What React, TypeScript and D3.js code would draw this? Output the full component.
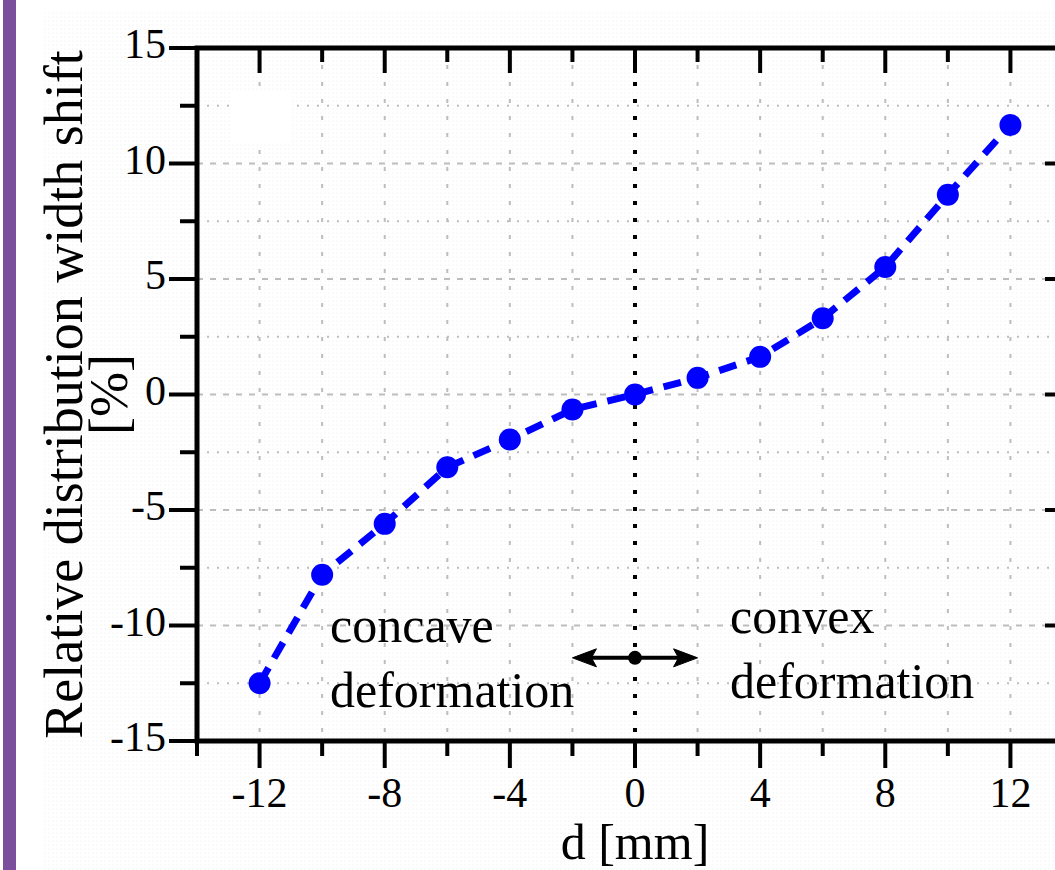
import React from "react";
import * as d3 from "d3";

// values
const dValues = [-12, -10, -8, -6, -4, -2, 0, 2, 4, 6, 8, 10, 12];
const widthShift = [-12.5, -7.8, -5.6, -3.15, -1.95, -0.65, 0, 0.72, 1.63, 3.3, 5.52, 8.65, 11.67];
const xMajorTicks = [-12, -8, -4, 0, 4, 8, 12];
const xMinorTicks = [-14, -10, -6, -2, 2, 6, 10, 14];
const yMajorTicks = [-15, -10, -5, 0, 5, 10, 15];
const yMinorTicks = [-12.5, -7.5, -2.5, 2.5, 7.5, 12.5];
const xGridTicks = [-12, -10, -8, -6, -4, -2, 2, 4, 6, 8, 10, 12];

const W = 1055;
const H = 870;
const font = "'Liberation Serif', 'Times New Roman', serif";

export default function App() {
  const x = d3.scaleLinear().domain([-14, 14]).range([197, 1073]);
  const y = d3.scaleLinear().domain([-15, 15]).range([741, 48]);

  const pts = dValues.map((d, i) => [x(d), y(widthShift[i])] as [number, number]);
  const line = d3.line()(pts) || "";

  const left = x(-14);
  const right = x(14);
  const top = y(15);
  const bottom = y(-15);

  // arrow annotation in data coords
  const arrowY = y(-11.4);
  const ax0 = x(-2);
  const ax1 = x(2);

  return (
    <svg width={W} height={H} style={{ position: "absolute", left: 0, top: 0, background: "#fff" }}>
      <defs>
        <pattern id="bgdots" width="4" height="4" patternUnits="userSpaceOnUse">
          <circle cx="1" cy="1" r="0.6" fill="#e6e6e6" />
        </pattern>
      </defs>
      <rect x={0} y={0} width={W} height={H} fill="#fff" />
      <rect x={43} y={12} width={W - 43} height={H - 12} fill="url(#bgdots)" />
      <rect x={3} y={0} width={13} height={H} fill="#7b4f9c" />

      {/* grid */}
      <g stroke="#bdbdbd" strokeWidth={2} fill="none">
        {xGridTicks.map((t) => (
          <line key={"gx" + t} x1={x(t)} x2={x(t)} y1={top} y2={bottom} strokeDasharray="4,13" />
        ))}
        {yMajorTicks.slice(1, -1).map((t) => (
          <line key={"gy" + t} x1={left} x2={right} y1={y(t)} y2={y(t)} strokeDasharray="6,7" />
        ))}
        {yMinorTicks.map((t) => (
          <line key={"gm" + t} x1={left} x2={right} y1={y(t)} y2={y(t)} strokeDasharray="2,8" />
        ))}
      </g>

      <rect x={230} y={92} width={62} height={51} fill="#fff" />

      {/* zero line */}
      <line x1={x(0)} x2={x(0)} y1={top} y2={bottom} stroke="#000" strokeWidth={4}
        strokeDasharray="4,13" />

      {/* frame and ticks */}
      <g stroke="#000" strokeWidth={4}>
        {xMajorTicks.map((t) => (
          <g key={"xt" + t}>
            <line x1={x(t)} x2={x(t)} y1={bottom} y2={bottom + 27} />
            <line x1={x(t)} x2={x(t)} y1={top} y2={top + 25} />
          </g>
        ))}
        {xMinorTicks.map((t) => (
          <g key={"xm" + t}>
            <line x1={x(t)} x2={x(t)} y1={bottom} y2={bottom + 15} />
            <line x1={x(t)} x2={x(t)} y1={top} y2={top + 14} />
          </g>
        ))}
        {yMajorTicks.map((t) => (
          <g key={"yt" + t}>
            <line x1={left - 28} x2={left} y1={y(t)} y2={y(t)} />
            <line x1={right - 28} x2={right} y1={y(t)} y2={y(t)} />
          </g>
        ))}
        {yMinorTicks.map((t) => (
          <g key={"ym" + t}>
            <line x1={left - 17} x2={left} y1={y(t)} y2={y(t)} />
            <line x1={right - 15} x2={right} y1={y(t)} y2={y(t)} />
          </g>
        ))}
        <rect x={left} y={top} width={right - left} height={bottom - top} fill="none" strokeWidth={5} />
      </g>

      {/* data */}
      <path d={line} fill="none" stroke="#0000ff" strokeWidth={7} strokeDasharray="18,11" />
      {pts.map((p, i) => (
        <circle key={i} cx={p[0]} cy={p[1]} r={11} fill="#0000ff" />
      ))}

      {/* arrow */}
      <g fill="#000" stroke="#000">
        <line x1={ax0 + 8} x2={ax1 - 8} y1={arrowY} y2={arrowY} strokeWidth={4} />
        <path d={`M${ax0},${arrowY} L${ax0 + 24},${arrowY - 9} L${ax0 + 19},${arrowY} L${ax0 + 24},${arrowY + 9} Z`} strokeWidth={1} />
        <path d={`M${ax1},${arrowY} L${ax1 - 24},${arrowY - 9} L${ax1 - 19},${arrowY} L${ax1 - 24},${arrowY + 9} Z`} strokeWidth={1} />
        <circle cx={x(0)} cy={arrowY} r={7} stroke="none" />
      </g>

      {/* tick labels */}
      <g fontFamily={font} fontSize={42} fill="#000">
        {xMajorTicks.map((t) => (
          <text key={"xl" + t} x={x(t)} y={807} textAnchor="middle">{t}</text>
        ))}
        {yMajorTicks.map((t) => (
          <text key={"yl" + t} x={166} y={y(t) + 10} textAnchor="end">{t}</text>
        ))}
      </g>

      {/* annotations */}
      <g fontFamily={font} fontSize={50} fill="#000">
        <text x={330} y={642}>concave</text>
        <text x={330} y={707}>deformation</text>
        <text x={730} y={633}>convex</text>
        <text x={730} y={698}>deformation</text>
      </g>

      {/* axis titles */}
      <text x={x(0)} y={859} textAnchor="middle" fontFamily={font} fontSize={50}>d [mm]</text>
      <g transform={`translate(82, ${(top + bottom) / 2}) rotate(-90)`} fontFamily={font} fontSize={54}>
        <text x={0} y={0} textAnchor="middle">Relative distribution width shift</text>
        <text x={0} y={45} textAnchor="middle">[%]</text>
      </g>
    </svg>
  );
}
